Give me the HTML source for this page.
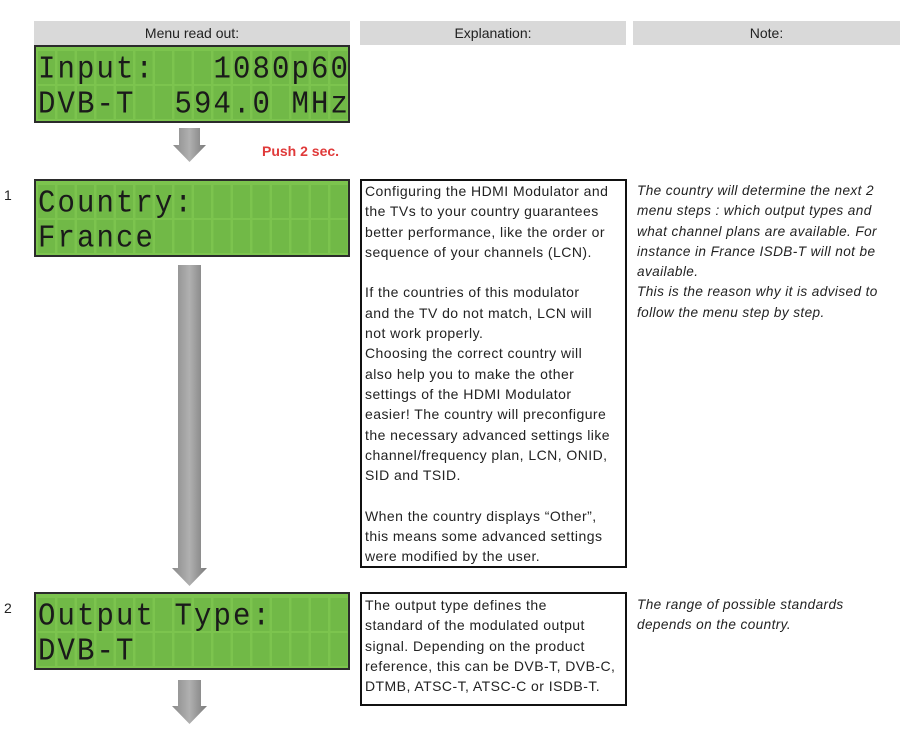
<!DOCTYPE html>
<html><head><meta charset="utf-8"><style>
body{margin:0;width:913px;height:740px;background:#fff;position:relative;overflow:hidden;font-family:"Liberation Sans",sans-serif}
.h{position:absolute;top:21px;height:24px;background:#d9d9d9;font-size:14px;line-height:24px;text-align:center;color:#222}
.lcd{position:absolute;left:34px;width:312px;height:74px;border:2px solid #2b2b2b;background:#7cc44e;overflow:hidden}
.row{position:absolute;left:2px;width:312px;height:33px;background:repeating-linear-gradient(90deg,#71b947 0 17px,#7cc44e 17px 19.5px)}
.row span{position:absolute;left:0;top:-1px;font-family:"Liberation Mono",monospace;font-size:29px;color:#1a1a1a;letter-spacing:2.1px;white-space:pre;line-height:36px;transform:scaleY(1.1);transform-origin:top left}
.box{position:absolute;border:2px solid #111;background:#fff}
.t{position:absolute;font-size:14px;color:#222;white-space:pre;line-height:20.3px;letter-spacing:0.45px}
.n{position:absolute;font-size:13.6px;color:#222;font-style:italic;white-space:pre;line-height:20.3px;letter-spacing:0.4px}
.num{position:absolute;left:4px;font-size:14px;color:#222}
</style></head><body>
<div class="h" style="left:34px;width:316px">Menu read out:</div>
<div class="h" style="left:360px;width:266px">Explanation:</div>
<div class="h" style="left:633px;width:267px">Note:</div>

<div class="lcd" style="top:45px"><div class="row" style="top:4px"><span>Input:   1080p60</span></div><div class="row" style="top:39px"><span>DVB-T  594.0 MHz</span></div></div>
<svg style="position:absolute;left:0;top:0" width="913" height="740">
<defs><linearGradient id="g" x1="0" x2="1"><stop offset="0" stop-color="#8a8a8a"/><stop offset=".5" stop-color="#b0b0b0"/><stop offset="1" stop-color="#7a7a7a"/></linearGradient></defs>
<path d="M179 128H200V145H206L189.5 162L173 145H179Z" fill="url(#g)"/>
<path d="M178 265H201V568H207L189.5 586L172 568H178Z" fill="url(#g)"/>
<path d="M178 680H201V706H207L189.5 724L172 706H178Z" fill="url(#g)"/>
</svg>
<div style="position:absolute;left:262px;top:143px;color:#e03a3a;font-weight:bold;font-size:14px">Push 2 sec.</div>

<div class="num" style="top:187px">1</div>
<div class="lcd" style="top:179px"><div class="row" style="top:4px"><span>Country:</span></div><div class="row" style="top:39px"><span>France</span></div></div>
<div class="num" style="top:600px">2</div>
<div class="lcd" style="top:592px"><div class="row" style="top:4px"><span>Output Type:</span></div><div class="row" style="top:39px"><span>DVB-T</span></div></div>

<div class="box" style="left:360px;top:179px;width:263px;height:385px"></div>
<div class="t" style="left:365px;top:181px">Configuring the HDMI Modulator and
the TVs to your country guarantees
better performance, like the order or
sequence of your channels (LCN).

If the countries of this modulator
and the TV do not match, LCN will
not work properly.
Choosing the correct country will
also help you to make the other
settings of the HDMI Modulator
easier! The country will preconfigure
the necessary advanced settings like
channel/frequency plan, LCN, ONID,
SID and TSID.

When the country displays “Other”,
this means some advanced settings
were modified by the user.</div>

<div class="box" style="left:360px;top:592px;width:263px;height:110px"></div>
<div class="t" style="left:365px;top:595px">The output type defines the
standard of the modulated output
signal. Depending on the product
reference, this can be DVB-T, DVB-C,
DTMB, ATSC-T, ATSC-C or ISDB-T.</div>

<div class="n" style="left:637px;top:181px">The country will determine the next 2
menu steps : which output types and
what channel plans are available. For
instance in France ISDB-T will not be
available.
This is the reason why it is advised to
follow the menu step by step.</div>
<div class="n" style="left:637px;top:595px">The range of possible standards
depends on the country.</div>
</body></html>
